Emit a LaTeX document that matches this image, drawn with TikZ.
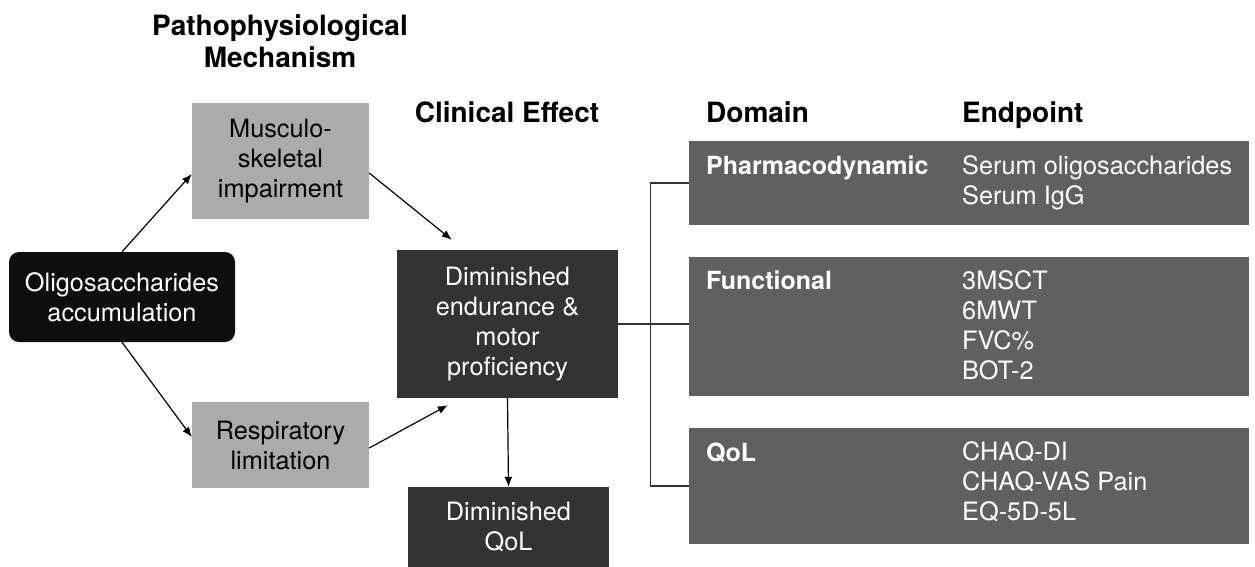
\documentclass[tikz,border=0pt]{standalone}
\usepackage{fontspec}
\setmainfont{TeX Gyre Heros}
\usetikzlibrary{arrows.meta}

\definecolor{blackbox}{HTML}{0E0E0E}
\definecolor{lightbox}{HTML}{ABABAB}
\definecolor{darkbox}{HTML}{333333}
\definecolor{panelgray}{HTML}{606060}

\tikzset{
  head/.style={font=\fontsize{28}{32}\selectfont\bfseries, align=center, inner sep=0pt},
  mech/.style={fill=lightbox, text=black, font=\fontsize{25.3}{30}\selectfont, align=center, inner sep=0pt},
  effect/.style={fill=darkbox, text=white, font=\fontsize{25.3}{30}\selectfont, align=center, inner sep=0pt},
  panelbox/.style={fill=panelgray, minimum width=560pt, inner sep=0pt},
  domainlabel/.style={text=white, font=\fontsize{25}{30}\selectfont\bfseries, anchor=base west, inner sep=0pt},
  endlist/.style={text=white, font=\fontsize{25.3}{30}\selectfont, align=left, anchor=west, inner sep=0pt},
  flow/.style={-{Latex[length=10pt,width=8pt]}, line width=1.2pt},
  link/.style={line width=1.3pt, draw=darkbox}
}

\begin{document}
\begin{tikzpicture}[x=1pt, y=-1pt]
  \useasboundingbox (0,0) rectangle (1255,566);

  % column headers
  \node[head] (mechhead) at (280,41) {Pathophysiological\\Mechanism};
  \node[head, anchor=base] (effhead) at (507,122) {Clinical Effect};
  \node[head, anchor=base west] (domhead) at (706,122) {Domain};
  \node[head, anchor=base west] (endhead) at (962,122) {Endpoint};

  % mechanism and effect boxes
  \node[fill=blackbox, text=white, rounded corners=10pt, font=\fontsize{25.3}{30}\selectfont,
        align=center, inner sep=0pt, minimum width=226pt, minimum height=90pt]
        (oligo) at (122,297) {Oligosaccharides\\accumulation};
  \node[mech, minimum width=177pt, minimum height=116pt] (musc) at (280.5,161) {Musculo-\\skeletal\\impairment};
  \node[mech, minimum width=177pt, minimum height=86pt] (resp) at (280.5,445) {Respiratory\\limitation};
  \node[effect, minimum width=221pt, minimum height=148pt] (dimend) at (507.5,324)
        {Diminished\\endurance \&\\motor\\proficiency};
  \node[effect, minimum width=201pt, minimum height=80pt] (dimqol) at (508.5,527) {Diminished\\QoL};

  % domain panels
  \node[panelbox, minimum height=84pt] (pharm) at (969,183) {};
  \node[panelbox, minimum height=139pt] (func) at (969,326.5) {};
  \node[panelbox, minimum height=116pt] (qolbox) at (969,486) {};

  \node[domainlabel] (pdlabel) at (706,174) {Pharmacodynamic};
  \node[domainlabel] (fnlabel) at (706,289) {Functional};
  \node[domainlabel] (qllabel) at (706,461) {QoL};

  \node[endlist] (pdend) at (962,182.5) {Serum oligosaccharides\\Serum IgG};
  \node[endlist] (fnend) at (962,325) {3MSCT\\6MWT\\FVC\%\\BOT-2};
  \node[endlist] (qlend) at (962,482) {CHAQ-DI\\CHAQ-VAS Pain\\EQ-5D-5L};

  % arrows
  \draw[flow] (oligo.north) -- ([yshift=-13pt]musc.west);
  \draw[flow] (oligo.south) -- ([yshift=8pt]resp.west);
  \draw[flow] ([yshift=-12pt]musc.east) -- ([shift={(55pt,10pt)}]dimend.north west);
  \draw[flow] ([yshift=-3pt]resp.east) -- ([shift={(51pt,-7pt)}]dimend.south west);
  \draw[flow] (dimend.south) -- (dimqol.north);

  % bracket to the domains
  \draw[link] (dimend.east) -- (dimend.east -| func.west);
  \draw[link] (pharm.west) -- ++(-38,0) |- (qolbox.west);
\end{tikzpicture}
\end{document}
